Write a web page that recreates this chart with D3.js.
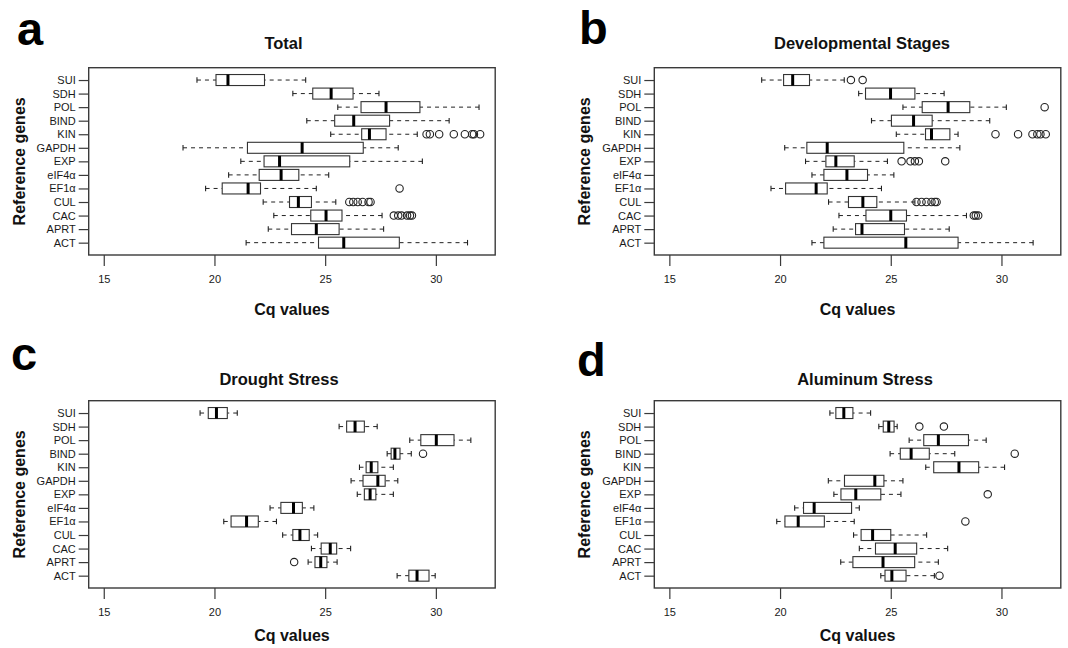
<!DOCTYPE html>
<html>
<head>
<meta charset="utf-8">
<script src="https://cdn.jsdelivr.net/npm/d3@7"></script>
<style>
  body { margin: 0; background: #fff; }
  svg { display: block; font-family: "Liberation Sans", Arial, sans-serif; }
</style>
</head>
<body>
<svg id="chart" width="1068" height="648"></svg>
<script>
const genes = ['SUI', 'SDH', 'POL', 'BIND', 'KIN', 'GAPDH', 'EXP', 'eIF4α', 'EF1α', 'CUL', 'CAC', 'APRT', 'ACT'];
const xTicks = [15, 20, 25, 30];
const xLimits = [15, 32];

// [lower whisker, Q1, median, Q3, upper whisker] per gene, same order as genes
const totalStats = [
  [19.21, 20.07, 20.61, 22.26, 24.12],
  [23.54, 24.44, 25.27, 26.26, 27.43],
  [25.57, 26.62, 27.75, 29.28, 31.95],
  [24.17, 25.43, 26.29, 27.91, 30.60],
  [25.25, 26.65, 27.00, 27.75, 29.16],
  [18.58, 21.49, 23.96, 26.72, 28.30],
  [21.19, 22.24, 22.94, 26.11, 29.39],
  [20.64, 22.02, 23.01, 23.81, 25.16],
  [19.60, 20.35, 21.52, 22.08, 24.60],
  [22.20, 23.39, 23.79, 24.38, 25.48],
  [22.68, 24.35, 25.04, 25.76, 27.57],
  [22.43, 23.48, 24.60, 25.63, 27.64],
  [21.43, 24.70, 25.84, 28.35, 31.43]
];
const totalOutliers = [
  [], [], [], [],
  [29.58, 29.73, 30.15, 30.81, 31.31, 31.64, 31.72, 32.0],
  [], [], [],
  [28.36],
  [26.09, 26.27, 26.47, 26.69, 26.96, 27.05],
  [28.1, 28.3, 28.45, 28.7, 28.83, 28.92],
  [], []
];

const devStats = [
  [19.17, 20.16, 20.57, 21.33, 22.90],
  [23.55, 23.86, 24.99, 26.09, 27.41],
  [25.55, 26.42, 27.59, 28.57, 30.22],
  [24.13, 25.03, 26.03, 26.87, 29.47],
  [25.25, 26.57, 26.84, 27.67, 28.04],
  [20.21, 21.21, 22.13, 25.59, 28.12],
  [21.15, 22.07, 22.52, 23.35, 24.85],
  [21.44, 21.98, 23.02, 23.95, 25.14],
  [19.59, 20.25, 21.63, 22.13, 24.58],
  [22.19, 23.09, 23.74, 24.37, 26.09],
  [22.66, 23.88, 25.00, 25.71, 28.42],
  [22.40, 23.41, 23.70, 25.62, 27.64],
  [21.44, 21.98, 25.68, 28.04, 31.43]
];
const devOutliers = [
  [23.2, 23.73],
  [],
  [31.95],
  [],
  [29.73, 30.75, 31.4, 31.62, 31.76, 32.0],
  [],
  [25.49, 25.89, 26.09, 26.27, 27.46],
  [], [],
  [26.16, 26.39, 26.61, 26.84, 26.99, 27.07],
  [28.75, 28.84, 28.95],
  [], []
];

const droughtStats = [
  [19.35, 19.72, 20.09, 20.58, 21.03],
  [25.63, 25.97, 26.35, 26.77, 27.35],
  [28.82, 29.32, 30.02, 30.82, 31.58],
  [27.80, 27.98, 28.15, 28.38, 28.89],
  [26.55, 26.85, 27.08, 27.38, 28.08],
  [26.17, 26.71, 27.38, 27.71, 28.28],
  [26.45, 26.77, 27.03, 27.29, 28.08],
  [22.51, 23.00, 23.57, 23.97, 24.49],
  [20.42, 20.75, 21.45, 21.98, 22.80],
  [23.08, 23.54, 23.86, 24.28, 24.66],
  [24.38, 24.82, 25.23, 25.52, 26.15],
  [24.23, 24.54, 24.80, 25.08, 25.54],
  [28.25, 28.78, 29.15, 29.69, 29.97]
];
const droughtOutliers = [
  [], [], [],
  [29.42],
  [], [], [], [], [], [], [],
  [23.6],
  []
];

const aluminumStats = [
  [22.25, 22.52, 22.88, 23.29, 24.09],
  [24.46, 24.66, 24.91, 25.15, 25.29],
  [25.83, 26.49, 27.15, 28.51, 29.31],
  [24.97, 25.43, 25.92, 26.74, 27.89],
  [26.58, 26.94, 28.08, 28.97, 30.14],
  [22.18, 22.91, 24.28, 24.69, 25.55],
  [22.43, 22.75, 23.42, 24.55, 25.46],
  [20.66, 21.06, 21.54, 23.23, 23.58],
  [19.85, 20.22, 20.82, 22.00, 23.35],
  [23.32, 23.66, 24.18, 25.00, 26.62],
  [23.58, 24.31, 25.20, 26.17, 27.57],
  [22.74, 23.29, 24.65, 26.08, 27.15],
  [24.55, 24.74, 25.05, 25.69, 26.97]
];
const aluminumOutliers = [
  [],
  [26.29, 27.4],
  [],
  [30.6],
  [], [],
  [29.38],
  [],
  [28.37],
  [], [], [],
  [27.2]
];

const panels = [
  { letter: 'a', title: 'Total', stats: totalStats, outliers: totalOutliers,
    x0: 88.7, y0: 67.7, letterX: 17, letterY: 45, titleX: 283.5, titleY: 49.3, xlabY: 315, ylabX: 25 },
  { letter: 'b', title: 'Developmental Stages', stats: devStats, outliers: devOutliers,
    x0: 654.3, y0: 67.7, letterX: 579, letterY: 44, titleX: 862, titleY: 49.3, xlabY: 315, ylabX: 590 },
  { letter: 'c', title: 'Drought Stress', stats: droughtStats, outliers: droughtOutliers,
    x0: 88.7, y0: 400.7, letterX: 11, letterY: 370, titleX: 279, titleY: 385, xlabY: 641, ylabX: 25 },
  { letter: 'd', title: 'Aluminum Stress', stats: aluminumStats, outliers: aluminumOutliers,
    x0: 654.3, y0: 400.7, letterX: 577, letterY: 376, titleX: 865, titleY: 385, xlabY: 641, ylabX: 590 }
];

const W = 406.5, H = 187.3;
const boxH = 11, stapleH = 5.5;
const ink = '#222';

const svg = d3.select('#chart');

function drawPanel(p) {
  const g = svg.append('g');

  // R style 4% padding around xlim
  const pad = (xLimits[1] - xLimits[0]) * 0.04;
  const x = d3.scaleLinear()
    .domain([xLimits[0] - pad, xLimits[1] + pad])
    .range([p.x0, p.x0 + W]);
  const y = d3.scalePoint()
    .domain(genes)
    .range([p.y0, p.y0 + H])
    .padding(0.91);

  // frame
  g.append('rect')
    .attr('x', p.x0).attr('y', p.y0)
    .attr('width', W).attr('height', H)
    .attr('fill', 'none')
    .attr('stroke', '#3a3a3a')
    .attr('stroke-width', 1.4);

  // axes
  const yAxis = g.append('g')
    .attr('transform', `translate(${p.x0},0)`)
    .call(d3.axisLeft(y).tickSize(10).tickPadding(3));
  const xAxis = g.append('g')
    .attr('transform', `translate(0,${p.y0 + H})`)
    .call(d3.axisBottom(x).tickValues(xTicks).tickSize(11).tickPadding(9));
  [yAxis, xAxis].forEach((a) => {
    a.select('.domain').remove();
    a.selectAll('line').attr('stroke', '#3a3a3a').attr('stroke-width', 1.2);
    a.selectAll('text')
      .attr('fill', '#1a1a1a')
      .style('font-size', '11px')
      .style('font-family', '"Liberation Sans", Arial, sans-serif');
  });

  const rows = genes.map((gene, i) => ({ gene, s: p.stats[i], out: p.outliers[i] }));
  const row = g.selectAll('g.row')
    .data(rows)
    .join('g')
    .attr('class', 'row')
    .attr('transform', (d) => `translate(0,${y(d.gene)})`);

  // dashed whiskers
  row.append('line')
    .attr('x1', (d) => x(d.s[0])).attr('x2', (d) => x(d.s[1]))
    .attr('stroke', ink).attr('stroke-width', 1).attr('stroke-dasharray', '4,4');
  row.append('line')
    .attr('x1', (d) => x(d.s[4])).attr('x2', (d) => x(d.s[3]))
    .attr('stroke', ink).attr('stroke-width', 1).attr('stroke-dasharray', '4,4');

  // staples
  [0, 4].forEach((k) => {
    row.append('line')
      .attr('x1', (d) => x(d.s[k])).attr('x2', (d) => x(d.s[k]))
      .attr('y1', -stapleH / 2).attr('y2', stapleH / 2)
      .attr('stroke', ink).attr('stroke-width', 1.1);
  });

  // box
  row.append('rect')
    .attr('x', (d) => x(d.s[1]))
    .attr('y', -boxH / 2)
    .attr('width', (d) => x(d.s[3]) - x(d.s[1]))
    .attr('height', boxH)
    .attr('fill', '#fff')
    .attr('stroke', '#333')
    .attr('stroke-width', 1.1);

  // median
  row.append('line')
    .attr('x1', (d) => x(d.s[2])).attr('x2', (d) => x(d.s[2]))
    .attr('y1', -boxH / 2).attr('y2', boxH / 2)
    .attr('stroke', '#000').attr('stroke-width', 3);

  // outliers
  row.selectAll('circle')
    .data((d) => d.out)
    .join('circle')
    .attr('cx', (v) => x(v))
    .attr('cy', 0)
    .attr('r', 3.7)
    .attr('fill', 'none')
    .attr('stroke', ink)
    .attr('stroke-width', 1.1);

  // texts
  svg.append('text')
    .attr('x', p.letterX).attr('y', p.letterY)
    .attr('font-size', 47).attr('font-weight', 'bold').attr('fill', '#000')
    .text(p.letter);
  svg.append('text')
    .attr('x', p.titleX).attr('y', p.titleY)
    .attr('text-anchor', 'middle')
    .attr('font-size', 16.5).attr('font-weight', 'bold').attr('fill', '#111')
    .text(p.title);
  svg.append('text')
    .attr('x', p.x0 + W / 2).attr('y', p.xlabY)
    .attr('text-anchor', 'middle')
    .attr('font-size', 16).attr('font-weight', 'bold').attr('fill', '#111')
    .text('Cq values');
  svg.append('text')
    .attr('transform', `translate(${p.ylabX},${p.y0 + H / 2}) rotate(-90)`)
    .attr('text-anchor', 'middle')
    .attr('font-size', 16).attr('font-weight', 'bold').attr('fill', '#111')
    .text('Reference genes');
}

panels.forEach(drawPanel);
</script>
</body>
</html>
